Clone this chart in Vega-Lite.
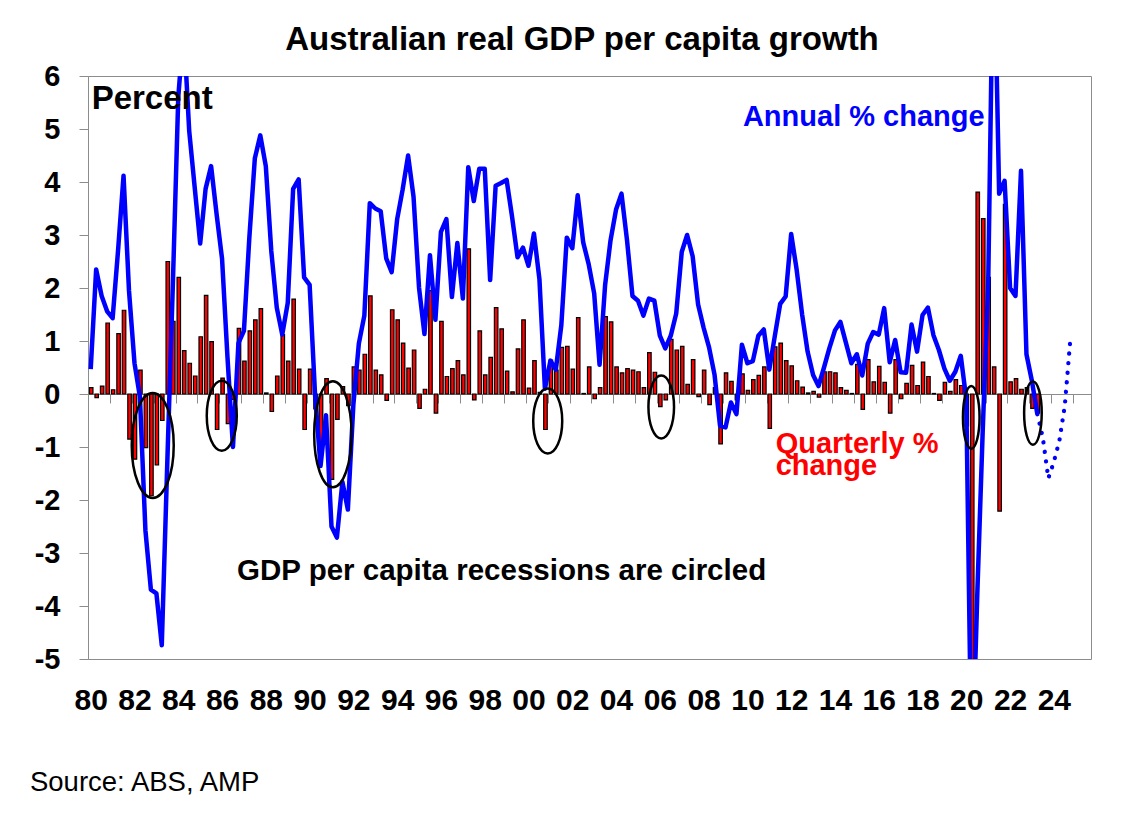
{
  "$schema": "https://vega.github.io/schema/vega-lite/v6.json",
  "width": 1003,
  "height": 583,
  "autosize": {"type": "none"},
  "padding": {"left": 88, "top": 76, "right": 49, "bottom": 155},
  "background": "#ffffff",
  "datasets": {
    "gdp": [
      {"date": "1980-02-15", "quarterly": 0.12, "annual": 0.47},
      {"date": "1980-05-16", "quarterly": -0.07, "annual": 2.35},
      {"date": "1980-08-16", "quarterly": 0.15, "annual": 1.85},
      {"date": "1980-11-15", "quarterly": 1.34, "annual": 1.56},
      {"date": "1981-02-15", "quarterly": 0.08, "annual": 1.43},
      {"date": "1981-05-16", "quarterly": 1.14, "annual": 2.7},
      {"date": "1981-08-16", "quarterly": 1.58, "annual": 4.12},
      {"date": "1981-11-15", "quarterly": -0.85, "annual": 1.95},
      {"date": "1982-02-15", "quarterly": -1.23, "annual": 0.58},
      {"date": "1982-05-16", "quarterly": 0.45, "annual": -0.05},
      {"date": "1982-08-16", "quarterly": -1.01, "annual": -2.57},
      {"date": "1982-11-15", "quarterly": -1.92, "annual": -3.69},
      {"date": "1983-02-15", "quarterly": -1.34, "annual": -3.76},
      {"date": "1983-05-16", "quarterly": -0.5, "annual": -4.74},
      {"date": "1983-08-16", "quarterly": 2.5, "annual": -1.3},
      {"date": "1983-11-15", "quarterly": 1.37, "annual": 2.0},
      {"date": "1984-02-15", "quarterly": 2.2, "annual": 5.6},
      {"date": "1984-05-16", "quarterly": 0.82, "annual": 6.9},
      {"date": "1984-08-16", "quarterly": 0.58, "annual": 4.96},
      {"date": "1984-11-15", "quarterly": 0.34, "annual": 3.9},
      {"date": "1985-02-15", "quarterly": 1.08, "annual": 2.84},
      {"date": "1985-05-16", "quarterly": 1.86, "annual": 3.87},
      {"date": "1985-08-16", "quarterly": 0.99, "annual": 4.3},
      {"date": "1985-11-15", "quarterly": -0.67, "annual": 3.4},
      {"date": "1986-02-15", "quarterly": 0.3, "annual": 2.55},
      {"date": "1986-05-16", "quarterly": -0.56, "annual": 0.7},
      {"date": "1986-08-16", "quarterly": -0.1, "annual": -1.0},
      {"date": "1986-11-15", "quarterly": 1.24, "annual": 0.96},
      {"date": "1987-02-15", "quarterly": 0.62, "annual": 1.19},
      {"date": "1987-05-16", "quarterly": 1.19, "annual": 2.95},
      {"date": "1987-08-16", "quarterly": 1.4, "annual": 4.45},
      {"date": "1987-11-15", "quarterly": 1.61, "annual": 4.88},
      {"date": "1988-02-15", "quarterly": 0.02, "annual": 4.3},
      {"date": "1988-05-16", "quarterly": -0.33, "annual": 2.7},
      {"date": "1988-08-16", "quarterly": 0.34, "annual": 1.63},
      {"date": "1988-11-15", "quarterly": 1.12, "annual": 1.12},
      {"date": "1989-02-15", "quarterly": 0.62, "annual": 1.72},
      {"date": "1989-05-16", "quarterly": 1.79, "annual": 3.87},
      {"date": "1989-08-16", "quarterly": 0.47, "annual": 4.05},
      {"date": "1989-11-15", "quarterly": -0.67, "annual": 2.2},
      {"date": "1990-02-15", "quarterly": 0.47, "annual": 2.06},
      {"date": "1990-05-16", "quarterly": -0.28, "annual": 0.0},
      {"date": "1990-08-16", "quarterly": -0.9, "annual": -1.36},
      {"date": "1990-11-15", "quarterly": 0.29, "annual": -0.4},
      {"date": "1991-02-15", "quarterly": -1.61, "annual": -2.5},
      {"date": "1991-05-16", "quarterly": -0.48, "annual": -2.71},
      {"date": "1991-08-16", "quarterly": 0.14, "annual": -1.66},
      {"date": "1991-11-15", "quarterly": -0.22, "annual": -2.18},
      {"date": "1992-02-15", "quarterly": 0.51, "annual": -0.2},
      {"date": "1992-05-16", "quarterly": 0.45, "annual": 0.95},
      {"date": "1992-08-16", "quarterly": 0.75, "annual": 1.48},
      {"date": "1992-11-15", "quarterly": 1.85, "annual": 3.6},
      {"date": "1993-02-15", "quarterly": 0.45, "annual": 3.5},
      {"date": "1993-05-16", "quarterly": 0.36, "annual": 3.45},
      {"date": "1993-08-16", "quarterly": -0.12, "annual": 2.56},
      {"date": "1993-11-15", "quarterly": 1.59, "annual": 2.3},
      {"date": "1994-02-15", "quarterly": 1.4, "annual": 3.3},
      {"date": "1994-05-16", "quarterly": 0.96, "annual": 3.85},
      {"date": "1994-08-16", "quarterly": 0.49, "annual": 4.5},
      {"date": "1994-11-15", "quarterly": 0.83, "annual": 3.72},
      {"date": "1995-02-15", "quarterly": -0.27, "annual": 2.0},
      {"date": "1995-05-16", "quarterly": 0.09, "annual": 1.13},
      {"date": "1995-08-16", "quarterly": 1.95, "annual": 2.62},
      {"date": "1995-11-15", "quarterly": -0.36, "annual": 1.4},
      {"date": "1996-02-15", "quarterly": 1.37, "annual": 3.06},
      {"date": "1996-05-16", "quarterly": 0.33, "annual": 3.3},
      {"date": "1996-08-16", "quarterly": 0.48, "annual": 1.83},
      {"date": "1996-11-15", "quarterly": 0.63, "annual": 2.85},
      {"date": "1997-02-15", "quarterly": 0.36, "annual": 1.8},
      {"date": "1997-05-16", "quarterly": 2.74, "annual": 4.28},
      {"date": "1997-08-16", "quarterly": -0.11, "annual": 3.64},
      {"date": "1997-11-15", "quarterly": 1.19, "annual": 4.25},
      {"date": "1998-02-15", "quarterly": 0.36, "annual": 4.25},
      {"date": "1998-05-16", "quarterly": 0.69, "annual": 2.15},
      {"date": "1998-08-16", "quarterly": 1.63, "annual": 3.93},
      {"date": "1998-11-15", "quarterly": 1.23, "annual": 3.98},
      {"date": "1999-02-15", "quarterly": 0.43, "annual": 4.04},
      {"date": "1999-05-16", "quarterly": 0.04, "annual": 3.35},
      {"date": "1999-08-16", "quarterly": 0.85, "annual": 2.58},
      {"date": "1999-11-15", "quarterly": 1.4, "annual": 2.76},
      {"date": "2000-02-15", "quarterly": 0.11, "annual": 2.42},
      {"date": "2000-05-16", "quarterly": 0.63, "annual": 3.03},
      {"date": "2000-08-16", "quarterly": 0.03, "annual": 2.16},
      {"date": "2000-11-15", "quarterly": -0.67, "annual": 0.1},
      {"date": "2001-02-15", "quarterly": 0.64, "annual": 0.63},
      {"date": "2001-05-16", "quarterly": 0.45, "annual": 0.46},
      {"date": "2001-08-16", "quarterly": 0.88, "annual": 1.3},
      {"date": "2001-11-15", "quarterly": 0.9, "annual": 2.95},
      {"date": "2002-02-15", "quarterly": 0.47, "annual": 2.75},
      {"date": "2002-05-16", "quarterly": 1.44, "annual": 3.75},
      {"date": "2002-08-16", "quarterly": 0.01, "annual": 2.86},
      {"date": "2002-11-15", "quarterly": 0.51, "annual": 2.45},
      {"date": "2003-02-15", "quarterly": -0.09, "annual": 1.9},
      {"date": "2003-05-16", "quarterly": 0.12, "annual": 0.55},
      {"date": "2003-08-16", "quarterly": 1.46, "annual": 2.05},
      {"date": "2003-11-15", "quarterly": 1.36, "annual": 2.9},
      {"date": "2004-02-15", "quarterly": 0.51, "annual": 3.48},
      {"date": "2004-05-16", "quarterly": 0.4, "annual": 3.78},
      {"date": "2004-08-16", "quarterly": 0.48, "annual": 2.9},
      {"date": "2004-11-15", "quarterly": 0.45, "annual": 1.85},
      {"date": "2005-02-15", "quarterly": 0.42, "annual": 1.76},
      {"date": "2005-05-16", "quarterly": 0.12, "annual": 1.48},
      {"date": "2005-08-16", "quarterly": 0.78, "annual": 1.8},
      {"date": "2005-11-15", "quarterly": 0.41, "annual": 1.76},
      {"date": "2006-02-15", "quarterly": -0.24, "annual": 1.1},
      {"date": "2006-05-16", "quarterly": -0.11, "annual": 0.86},
      {"date": "2006-08-16", "quarterly": 1.03, "annual": 1.1},
      {"date": "2006-11-15", "quarterly": 0.83, "annual": 1.52},
      {"date": "2007-02-15", "quarterly": 0.9, "annual": 2.68},
      {"date": "2007-05-16", "quarterly": 0.18, "annual": 3.0},
      {"date": "2007-08-16", "quarterly": 0.65, "annual": 2.6},
      {"date": "2007-11-15", "quarterly": -0.05, "annual": 1.69},
      {"date": "2008-02-15", "quarterly": 0.45, "annual": 1.25},
      {"date": "2008-05-16", "quarterly": -0.2, "annual": 0.88},
      {"date": "2008-08-16", "quarterly": 0.12, "annual": 0.36},
      {"date": "2008-11-15", "quarterly": -0.94, "annual": -0.6},
      {"date": "2009-02-15", "quarterly": 0.4, "annual": -0.63},
      {"date": "2009-05-16", "quarterly": 0.24, "annual": -0.16},
      {"date": "2009-08-16", "quarterly": -0.11, "annual": -0.38},
      {"date": "2009-11-15", "quarterly": 0.38, "annual": 0.93},
      {"date": "2010-02-15", "quarterly": 0.07, "annual": 0.58},
      {"date": "2010-05-16", "quarterly": 0.27, "annual": 0.62},
      {"date": "2010-08-16", "quarterly": 0.35, "annual": 1.1},
      {"date": "2010-11-15", "quarterly": 0.51, "annual": 1.22},
      {"date": "2011-02-15", "quarterly": -0.65, "annual": 0.46},
      {"date": "2011-05-16", "quarterly": 0.89, "annual": 1.08},
      {"date": "2011-08-16", "quarterly": 0.96, "annual": 1.7},
      {"date": "2011-11-15", "quarterly": 0.63, "annual": 1.84},
      {"date": "2012-02-15", "quarterly": 0.53, "annual": 3.02},
      {"date": "2012-05-16", "quarterly": 0.25, "annual": 2.35},
      {"date": "2012-08-16", "quarterly": 0.13, "annual": 1.5},
      {"date": "2012-11-15", "quarterly": 0.02, "annual": 0.8},
      {"date": "2013-02-15", "quarterly": 0.05, "annual": 0.36},
      {"date": "2013-05-16", "quarterly": -0.06, "annual": 0.15},
      {"date": "2013-08-16", "quarterly": 0.42, "annual": 0.5},
      {"date": "2013-11-15", "quarterly": 0.42, "annual": 0.87},
      {"date": "2014-02-15", "quarterly": 0.4, "annual": 1.2},
      {"date": "2014-05-16", "quarterly": 0.12, "annual": 1.36},
      {"date": "2014-08-16", "quarterly": 0.07, "annual": 0.97},
      {"date": "2014-11-15", "quarterly": 0.01, "annual": 0.58},
      {"date": "2015-02-15", "quarterly": 0.56, "annual": 0.75},
      {"date": "2015-05-16", "quarterly": -0.29, "annual": 0.35},
      {"date": "2015-08-16", "quarterly": 0.65, "annual": 0.95},
      {"date": "2015-11-15", "quarterly": 0.23, "annual": 1.17},
      {"date": "2016-02-15", "quarterly": 0.52, "annual": 1.12},
      {"date": "2016-05-16", "quarterly": 0.22, "annual": 1.62},
      {"date": "2016-08-16", "quarterly": -0.36, "annual": 0.6},
      {"date": "2016-11-15", "quarterly": 0.65, "annual": 1.02},
      {"date": "2017-02-15", "quarterly": -0.09, "annual": 0.41},
      {"date": "2017-05-16", "quarterly": 0.2, "annual": 0.4},
      {"date": "2017-08-16", "quarterly": 0.54, "annual": 1.31},
      {"date": "2017-11-15", "quarterly": 0.16, "annual": 0.8},
      {"date": "2018-02-15", "quarterly": 0.6, "annual": 1.49},
      {"date": "2018-05-16", "quarterly": 0.33, "annual": 1.63},
      {"date": "2018-08-16", "quarterly": 0.01, "annual": 1.11},
      {"date": "2018-11-15", "quarterly": -0.12, "annual": 0.83},
      {"date": "2019-02-15", "quarterly": 0.22, "annual": 0.48},
      {"date": "2019-05-16", "quarterly": 0.05, "annual": 0.25},
      {"date": "2019-08-16", "quarterly": 0.27, "annual": 0.42},
      {"date": "2019-11-15", "quarterly": 0.16, "annual": 0.72},
      {"date": "2020-02-15", "quarterly": -0.6, "annual": -0.1},
      {"date": "2020-05-16", "quarterly": -7.2, "annual": -7.4},
      {"date": "2020-08-16", "quarterly": 3.81, "annual": -3.8},
      {"date": "2020-11-15", "quarterly": 3.31, "annual": -0.7},
      {"date": "2021-02-15", "quarterly": 2.2, "annual": 2.1},
      {"date": "2021-05-16", "quarterly": 0.51, "annual": 9.0},
      {"date": "2021-08-16", "quarterly": -2.21, "annual": 3.78},
      {"date": "2021-11-15", "quarterly": 3.58, "annual": 4.02},
      {"date": "2022-02-15", "quarterly": 0.23, "annual": 2.0},
      {"date": "2022-05-16", "quarterly": 0.29, "annual": 1.85},
      {"date": "2022-08-16", "quarterly": 0.09, "annual": 4.21},
      {"date": "2022-11-15", "quarterly": 0.12, "annual": 0.75},
      {"date": "2023-02-15", "quarterly": -0.27, "annual": 0.24},
      {"date": "2023-05-16", "quarterly": -0.36, "annual": -0.38}
    ],
    "forecast": [
      {"date": "2023-05-16", "annual": -0.38},
      {"date": "2023-08-16", "annual": -0.83},
      {"date": "2023-11-15", "annual": -1.59},
      {"date": "2024-02-15", "annual": -1.28},
      {"date": "2024-05-16", "annual": -0.89},
      {"date": "2024-08-16", "annual": -0.22},
      {"date": "2024-11-15", "annual": 1.01}
    ],
    "recessions": [
      {"ring": "r1", "date": "1982-12-16", "value": -0.97},
      {"ring": "r2", "date": "1986-02-10", "value": -0.41},
      {"ring": "r3", "date": "1991-03-10", "value": -0.76},
      {"ring": "r4", "date": "2001-01-01", "value": -0.51},
      {"ring": "r5", "date": "2006-03-10", "value": -0.245},
      {"ring": "r6", "date": "2020-05-08", "value": -0.44},
      {"ring": "r7", "date": "2023-03-03", "value": -0.36}
    ]
  },
  "layer": [
    {
      "data": {"name": "gdp"},
      "mark": {"type": "bar", "fill": "#ff0000", "stroke": "#000000", "strokeWidth": 1.2, "binSpacing": 2, "clip": true},
      "encoding": {
        "x": {
          "field": "date",
          "timeUnit": "utcyearquarter",
          "type": "temporal",
          "scale": {
            "type": "utc",
            "nice": false,
            "domain": [
              {"year": 1980, "month": 1, "date": 1, "utc": true},
              {"year": 2025, "month": 10, "date": 27, "utc": true}
            ]
          },
          "axis": {
            "orient": "bottom",
            "title": null,
            "grid": false,
            "domain": false,
            "ticks": false,
            "tickSize": 0,
            "tickCount": {"interval": "year", "step": 2},
            "labelExpr": "utcFormat(datum.value, '%y')",
            "labelFont": "Liberation Sans",
            "labelFontSize": 30,
            "labelFontWeight": "bold",
            "labelColor": "#000000",
            "labelPadding": 26,
            "labelOffset": 2.7,
            "labelFlush": false,
            "labelOverlap": false,
            "labelBound": false
          }
        },
        "y": {
          "field": "quarterly",
          "type": "quantitative",
          "scale": {"domain": [-5, 6], "nice": false, "zero": false},
          "axis": {
            "title": null,
            "grid": false,
            "values": [-5, -4, -3, -2, -1, 0, 1, 2, 3, 4, 5, 6],
            "labelExpr": "'' + datum.value",
            "domainColor": "#8c8c8c",
            "tickColor": "#8c8c8c",
            "tickSize": 9,
            "labelFont": "Liberation Sans",
            "labelFontSize": 29,
            "labelFontWeight": "bold",
            "labelColor": "#000000",
            "labelPadding": 19
          }
        }
      }
    },
    {
      "data": {"name": "gdp"},
      "mark": {"type": "line", "color": "#0000ff", "strokeWidth": 4.5, "strokeJoin": "round", "clip": true},
      "encoding": {
        "x": {
          "field": "date",
          "type": "temporal",
          "axis": {
            "orient": "bottom",
            "offset": -265,
            "title": null,
            "grid": false,
            "labels": false,
            "domain": true,
            "domainColor": "#8c8c8c",
            "ticks": true,
            "tickColor": "#8c8c8c",
            "tickSize": 9,
            "tickCount": {"interval": "year", "step": 1}
          }
        },
        "y": {"field": "annual", "type": "quantitative", "axis": null}
      }
    },
    {
      "data": {"name": "forecast"},
      "mark": {"type": "line", "color": "#0000ff", "strokeWidth": 4.3, "strokeCap": "round", "strokeDash": [0.1, 9.5], "clip": true},
      "encoding": {
        "x": {"field": "date", "type": "temporal", "axis": null},
        "y": {"field": "annual", "type": "quantitative", "axis": null}
      }
    },
    {
      "data": {"name": "recessions"},
      "mark": {"type": "point", "filled": false, "stroke": "#000000", "strokeWidth": 2.5, "size": 4, "opacity": 1},
      "encoding": {
        "x": {"field": "date", "type": "temporal", "axis": null},
        "y": {"field": "value", "type": "quantitative", "axis": null},
        "shape": {
          "field": "ring",
          "type": "nominal",
          "legend": null,
          "scale": {
            "domain": ["r1", "r2", "r3", "r4", "r5", "r6", "r7"],
            "range": [
              "M0,-52.5A21,52.5 0 1,1 0,52.5A21,52.5 0 1,1 0,-52.5Z",
              "M0,-35A15,35 0 1,1 0,35A15,35 0 1,1 0,-35Z",
              "M0,-53A18.7,53 0 1,1 0,53A18.7,53 0 1,1 0,-53Z",
              "M0,-32.5A14.5,32.5 0 1,1 0,32.5A14.5,32.5 0 1,1 0,-32.5Z",
              "M0,-31.4A12.8,31.4 0 1,1 0,31.4A12.8,31.4 0 1,1 0,-31.4Z",
              "M0,-31.4A8.3,31.4 0 1,1 0,31.4A8.3,31.4 0 1,1 0,-31.4Z",
              "M0,-31.7A8.8,31.7 0 1,1 0,31.7A8.8,31.7 0 1,1 0,-31.7Z"
            ]
          }
        }
      }
    },
    {
      "data": {"values": [{}]},
      "mark": {"type": "text", "text": "Australian real GDP per capita growth", "align": "center", "baseline": "alphabetic", "font": "Liberation Sans", "fontSize": 33, "fontWeight": "bold", "color": "#000000"},
      "encoding": {
        "x": {"datum": {"year": 2002, "month": 7, "date": 27, "utc": true}, "type": "temporal", "axis": null},
        "y": {"datum": 6.5, "type": "quantitative", "axis": null}
      }
    },
    {
      "data": {"values": [{}]},
      "mark": {"type": "text", "text": "Percent", "align": "left", "baseline": "alphabetic", "font": "Liberation Sans", "fontSize": 33, "fontWeight": "bold", "color": "#000000"},
      "encoding": {
        "x": {"datum": {"year": 1980, "month": 3, "date": 2, "utc": true}, "type": "temporal", "axis": null},
        "y": {"datum": 5.38, "type": "quantitative", "axis": null}
      }
    },
    {
      "data": {"values": [{}]},
      "mark": {"type": "text", "text": "Annual % change", "align": "left", "baseline": "alphabetic", "font": "Liberation Sans", "fontSize": 29, "fontWeight": "bold", "color": "#0000ff"},
      "encoding": {
        "x": {"datum": {"year": 2009, "month": 12, "date": 2, "utc": true}, "type": "temporal", "axis": null},
        "y": {"datum": 5.05, "type": "quantitative", "axis": null}
      }
    },
    {
      "data": {"values": [{}]},
      "mark": {"type": "text", "text": "Quarterly %\nchange", "lineBreak": "\n", "lineHeight": 22, "align": "left", "baseline": "alphabetic", "font": "Liberation Sans", "fontSize": 29, "fontWeight": "bold", "color": "#ff0000"},
      "encoding": {
        "x": {"datum": {"year": 2011, "month": 6, "date": 1, "utc": true}, "type": "temporal", "axis": null},
        "y": {"datum": -1.11, "type": "quantitative", "axis": null}
      }
    },
    {
      "data": {"values": [{}]},
      "mark": {"type": "text", "text": "GDP per capita recessions are circled", "align": "left", "baseline": "alphabetic", "font": "Liberation Sans", "fontSize": 29.5, "fontWeight": "bold", "color": "#000000"},
      "encoding": {
        "x": {"datum": {"year": 1986, "month": 10, "date": 23, "utc": true}, "type": "temporal", "axis": null},
        "y": {"datum": -3.5, "type": "quantitative", "axis": null}
      }
    },
    {
      "data": {"values": [{}]},
      "mark": {"type": "text", "text": "Source: ABS, AMP", "align": "left", "baseline": "alphabetic", "font": "Liberation Sans", "fontSize": 27.5, "fontWeight": "normal", "color": "#000000"},
      "encoding": {
        "x": {"datum": {"year": 1977, "month": 5, "date": 8, "utc": true}, "type": "temporal", "axis": null},
        "y": {"datum": -7.49, "type": "quantitative", "axis": null}
      }
    }
  ],
  "resolve": {"axis": {"x": "independent", "y": "independent"}},
  "config": {
    "font": "Liberation Sans",
    "view": {"stroke": "#8c8c8c", "strokeWidth": 1},
    "axis": {"grid": false}
  }
}
